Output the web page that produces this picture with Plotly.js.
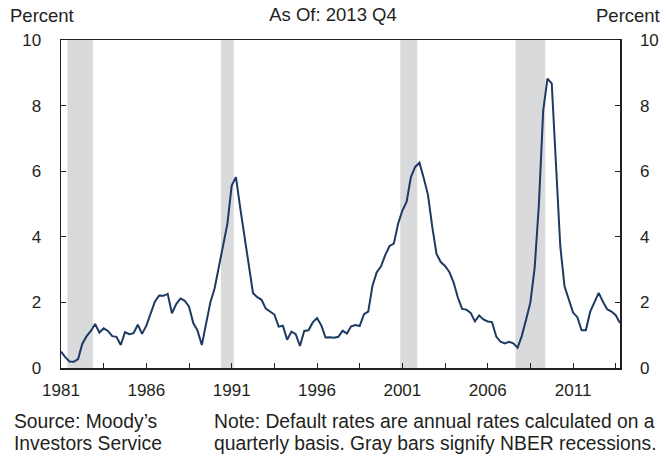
<!DOCTYPE html>
<html>
<head>
<meta charset="utf-8">
<script src="https://cdn.plot.ly/plotly-3.0.1.min.js"></script>
<style>html,body{margin:0;padding:0;background:#fff;}#chart{width:666px;height:459px;}</style>
</head>
<body>
<div id="chart"></div>
<script>
// Quarterly default rate (percent), 1981Q1 .. 2013Q4
const startYear = 1981;
const defaultRate = [
  0.50, 0.33, 0.20, 0.19,   // 1981
  0.27, 0.74, 0.97, 1.13,   // 1982
  1.34, 1.08, 1.21, 1.13,   // 1983
  0.97, 0.95, 0.70, 1.09,   // 1984
  1.03, 1.06, 1.32, 1.04,   // 1985
  1.29, 1.64, 2.02, 2.21,   // 1986
  2.20, 2.26, 1.67, 1.95,   // 1987
  2.12, 2.05, 1.87, 1.37,   // 1988
  1.14, 0.70, 1.40, 2.00,   // 1989
  2.43, 3.10, 3.71, 4.40,   // 1990
  5.56, 5.82, 4.88, 3.98,   // 1991
  3.03, 2.28, 2.16, 2.08,   // 1992
  1.81, 1.71, 1.63, 1.26,   // 1993
  1.29, 0.86, 1.11, 1.03,   // 1994
  0.67, 1.13, 1.15, 1.39,   // 1995
  1.52, 1.30, 0.93, 0.94,   // 1996
  0.92, 0.95, 1.14, 1.05,   // 1997
  1.27, 1.31, 1.28, 1.64,   // 1998
  1.72, 2.51, 2.92, 3.10,   // 1999
  3.45, 3.72, 3.79, 4.40,   // 2000
  4.80, 5.07, 5.82, 6.13,   // 2001
  6.26, 5.79, 5.28, 4.31,   // 2002
  3.48, 3.23, 3.11, 2.93,   // 2003
  2.61, 2.15, 1.80, 1.78,   // 2004
  1.68, 1.42, 1.60, 1.48,   // 2005
  1.42, 1.40, 0.96, 0.80,   // 2006
  0.75, 0.80, 0.75, 0.62,   // 2007
  0.98, 1.48, 2.00, 3.05,   // 2008
  5.00, 7.85, 8.82, 8.68,   // 2009
  6.10, 3.72, 2.49, 2.09,   // 2010
  1.69, 1.55, 1.15, 1.15,   // 2011
  1.71, 2.00, 2.29, 2.02,   // 2012
  1.79, 1.72, 1.61, 1.37    // 2013
];

// NBER recessions: first and last quarter (year + (q-1)/4)
const recessionStart = [1981.5, 1990.5, 2001.0, 2007.75];
const recessionEnd   = [1982.75, 1991.0, 2001.75, 2009.25];

const xTickVals  = [1981, 1986, 1991, 1996, 2001, 2006, 2011];
const xTickText  = ["1981", "1986", "1991", "1996", "2001", "2006", "2011"];
const yTickVals  = [0, 2, 4, 6, 8, 10];

const quarters = defaultRate.map((_, i) => startYear + i / 4);

const lineColor = "#1d3a62";
const frameColor = "#231f20";
const fontFam = "Liberation Sans, Arial, Helvetica, sans-serif";

const shapes = recessionStart.map((s, k) => ({
  type: "rect", xref: "x", yref: "paper",
  x0: s - 0.125, x1: recessionEnd[k] + 0.125, y0: 0, y1: 1,
  fillcolor: "#d9dadc", line: {width: 0}, layer: "below"
}));

const traces = [
  {x: quarters, y: defaultRate, type: "scatter", mode: "lines",
   line: {color: lineColor, width: 2}, hoverinfo: "x+y", showlegend: false},
  {x: [quarters[0]], y: [defaultRate[0]], yaxis: "y2", type: "scatter", mode: "markers",
   marker: {opacity: 0}, hoverinfo: "skip", showlegend: false}
];

const tickFont = {family: fontFam, size: 17, color: "#231f20"};
const headFont = {family: fontFam, size: 18.5, color: "#231f20"};
const footFont = {family: fontFam, size: 19.3, color: "#231f20"};

const py = v => (368.4 - v) / 328.4;   // pixel row -> paper y
const px = v => (v - 60.5) / 560;      // pixel col -> paper x

const footLines = [
  {text: "Source: Moody\u2019s", x: 11, y: 422},
  {text: "Investors Service", x: 11, y: 444},
  {text: "Note: Default rates are annual rates calculated on a", x: 212, y: 422},
  {text: "quarterly basis. Gray bars signify NBER recessions.", x: 212, y: 444}
];

const layout = {
  width: 666, height: 459,
  margin: {l: 60.5, r: 45.5, t: 40, b: 90.6, pad: 0},
  paper_bgcolor: "#fff", plot_bgcolor: "#fff",
  font: tickFont,
  showlegend: false,
  title: {text: "As Of: 2013 Q4", x: 0.5, xref: "container", xanchor: "center",
          y: 1 - 15 / 459, yref: "container", yanchor: "middle", font: headFont},
  xaxis: {
    range: [1981, 2013.75], showgrid: false, zeroline: false,
    showline: true, linecolor: frameColor, linewidth: 1.5, mirror: true,
    tickmode: "array", tickvals: xTickVals, ticktext: xTickText,
    ticks: "inside", ticklen: 5, tickcolor: frameColor, tickwidth: 1,
    minor: {dtick: 2.5, tick0: 1981, ticks: "inside", ticklen: 5, tickcolor: frameColor, tickwidth: 1, showgrid: false},
    tickfont: tickFont, ticklabelstandoff: 6
  },
  yaxis: {
    range: [0, 10], showgrid: false, zeroline: false,
    showline: true, linecolor: frameColor, linewidth: 1.5,
    tickmode: "array", tickvals: yTickVals,
    ticks: "inside", ticklen: 5, tickcolor: frameColor, tickwidth: 1,
    tickfont: tickFont, ticklabelstandoff: 15
  },
  yaxis2: {
    range: [0, 10], overlaying: "y", side: "right", showgrid: false, zeroline: false,
    showline: true, linecolor: frameColor, linewidth: 1.5,
    tickmode: "array", tickvals: yTickVals,
    ticks: "inside", ticklen: 5, tickcolor: frameColor, tickwidth: 1,
    tickfont: tickFont, ticklabelstandoff: 15
  },
  shapes: shapes,
  annotations: [
    {text: "Percent", xref: "paper", yref: "paper", x: px(7), y: py(15),
     xanchor: "left", yanchor: "middle", showarrow: false, font: headFont},
    {text: "Percent", xref: "paper", yref: "paper", x: px(663), y: py(15),
     xanchor: "right", yanchor: "middle", showarrow: false, font: headFont}
  ].concat(footLines.map(f => ({
    text: f.text, xref: "paper", yref: "paper", x: px(f.x), y: py(f.y),
    xanchor: "left", yanchor: "middle", align: "left", showarrow: false, font: footFont
  })))
};

Plotly.newPlot("chart", traces, layout, {displayModeBar: false, staticPlot: true});
</script>
</body>
</html>
